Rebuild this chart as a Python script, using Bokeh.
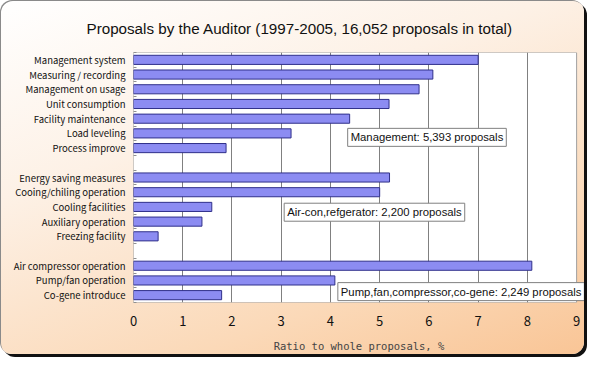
from bokeh.plotting import figure
from bokeh.models import Range1d, FixedTicker, Label, ColumnDataSource
from bokeh.embed import file_html
from bokeh.resources import INLINE

# ---- data ----
categories = ["Management system", "Measuring / recording", "Management on usage",
              "Unit consumption", "Facility maintenance", "Load leveling", "Process improve",
              "",
              "Energy saving measures", "Cooing/chiling operation", "Cooling facilities",
              "Auxiliary operation", "Freezing facility",
              "",
              "Air compressor operation", "Pump/fan operation", "Co-gene introduce"]
values = [7.0, 6.08, 5.8, 5.19, 4.39, 3.2, 1.88,
          None,
          5.2, 5.0, 1.59, 1.39, 0.5,
          None,
          8.09, 4.09, 1.79]
x_ticks = [0, 1, 2, 3, 4, 5, 6, 7, 8, 9]
group_notes = ["Management: 5,393 proposals",
               "Air-con,refgerator: 2,200 proposals",
               "Pump,fan,compressor,co-gene: 2,249 proposals"]
title_text = "Proposals by the Auditor (1997-2005, 16,052 proposals in total)"
x_label = "Ratio to whole proposals, %"

rows = [i for i, v in enumerate(values) if v is not None]
src = ColumnDataSource(dict(pos=rows,
                            val=[values[i] for i in rows],
                            name=[categories[i] for i in rows]))

x_lo, x_hi = x_ticks[0], x_ticks[-1]
y_top, y_bot = -0.5, len(categories) - 0.5

p = figure(width=584, height=354, output_backend="svg", toolbar_location=None,
           x_range=Range1d(x_lo, x_hi + 0.16), y_range=Range1d(y_bot, y_top),
           min_border_left=133, min_border_right=0, min_border_top=52,
           min_border_bottom=50)

p.styles = {
    "background": "linear-gradient(160deg, #ffffff 0%, #fdf1e6 35%, #fbd9b8 75%, #f9c596 100%)",
    "border-radius": "12px",
    "box-shadow": "inset 1px 1px 0 #8a8a8a, 3px 3px 0 #111111",
}
p.border_fill_color = None
p.border_fill_alpha = 0
p.background_fill_color = None
p.background_fill_alpha = 0
p.outline_line_color = None

# white plot area with gray border (0..9)
p.quad(left=[x_lo], right=[x_hi], top=[y_top], bottom=[y_bot],
       fill_color="white", line_color="#a0a0a0", line_width=1, level="image")

p.title.text = title_text
p.title.align = "left"
p.title.offset = -47
p.title.text_font = "Liberation Sans"
p.title.text_font_size = "15.2px"
p.title.text_font_style = "normal"
p.title.text_color = "#111111"
p.title.standoff = 32

p.hbar(y="pos", left=0, right="val", height=0.62, source=src,
       fill_color="#8c8cf2", line_color="#30308a", line_width=1)

# grids
p.ygrid.grid_line_color = None
p.xgrid.grid_line_color = "#808080"
p.xgrid.grid_line_width = 1
p.xgrid.ticker = FixedTicker(ticks=x_ticks[1:-1])

# x axis
p.xaxis.ticker = FixedTicker(ticks=x_ticks)
p.xaxis.axis_line_color = None
p.xaxis.major_tick_line_color = None
p.xaxis.minor_tick_line_color = None
p.xaxis.major_tick_out = 0
p.xaxis.major_label_standoff = 13
p.xaxis.major_label_text_font = "Noto Sans CJK JP"
p.xaxis.major_label_text_font_size = "13px"
p.xaxis.major_label_text_color = "#111111"
p.xaxis.axis_label = x_label
p.xaxis.axis_label_text_font = "DejaVu Sans Mono"
p.xaxis.axis_label_text_font_size = "10.5px"
p.xaxis.axis_label_text_font_style = "normal"
p.xaxis.axis_label_standoff = 11

# y axis
boundaries = [i - 0.5 for i in range(len(categories) + 1)]
p.yaxis.ticker = FixedTicker(ticks=rows, minor_ticks=boundaries)
p.yaxis.major_label_overrides = {i: categories[i] for i in rows}
p.yaxis.axis_line_color = None
p.yaxis.major_tick_line_color = None
p.yaxis.major_tick_out = 0
p.yaxis.minor_tick_line_color = "#909090"
p.yaxis.minor_tick_in = 3
p.yaxis.minor_tick_out = 0
p.yaxis.major_label_standoff = 8
p.yaxis.major_label_text_font = "Noto Sans CJK JP"
p.yaxis.major_label_text_font_size = "9.5px"
p.yaxis.major_label_text_color = "#111111"

# group annotations
note_pos = [(4.35, 5.27), (3.06, 10.36), (4.15, 15.76)]
for txt, (nx, ny) in zip(group_notes, note_pos):
    p.add_layout(Label(x=nx, y=ny, x_units="data", y_units="data", text=txt,
                       text_font="Liberation Sans", text_font_size="11.3px",
                       text_baseline="middle", text_align="left", text_color="#111111",
                       background_fill_color="white", border_line_color="#808080",
                       border_line_width=1, padding=3))

open("out.html", "w").write(file_html(p, INLINE))
